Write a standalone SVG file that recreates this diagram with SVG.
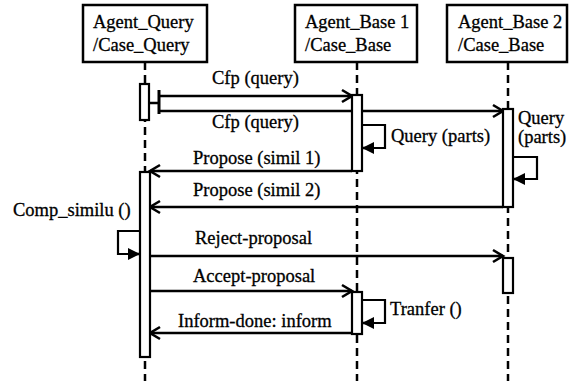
<svg xmlns="http://www.w3.org/2000/svg" width="571" height="381" viewBox="0 0 571 381">
<style>
text{font-family:'Liberation Serif','Times New Roman',serif;font-size:18.5px;fill:#000;stroke:#000;stroke-width:0.3}
.box{fill:#fff;stroke:#000;stroke-width:2.5}
.life{stroke:#000;stroke-width:2.5;stroke-dasharray:8 5;fill:none}
.act{fill:#fff;stroke:#000;stroke-width:2.2}
.msg{stroke:#000;stroke-width:2.5;fill:none}
.self{stroke:#000;stroke-width:2.2;fill:none}
</style>
<defs>
<marker id="open" markerUnits="userSpaceOnUse" markerWidth="16" markerHeight="16" refX="13" refY="8" orient="auto"><path d="M3,2 L13,8 L3,14" fill="none" stroke="#000" stroke-width="2.6"/></marker>
<marker id="solid" markerUnits="userSpaceOnUse" markerWidth="14" markerHeight="14" refX="12" refY="7" orient="auto"><path d="M0,1 L12,7 L0,13 Z" fill="#000"/></marker>
</defs>
<rect width="571" height="381" fill="#fff"/>
<g id="lifelines">
<line class="life" x1="145" y1="62" x2="145" y2="381"/>
<line class="life" x1="357" y1="62" x2="357" y2="381"/>
<line class="life" x1="508" y1="62" x2="508" y2="381"/>
</g>
<g id="node-agent-query">
<rect class="box" x="83" y="5" width="124" height="57"/>
<text x="93" y="28">Agent_Query</text>
<text x="93" y="51">/Case_Query</text>
</g>
<g id="node-agent-base1">
<rect class="box" x="295" y="5" width="122" height="57"/>
<text x="305" y="28">Agent_Base 1</text>
<text x="305" y="51">/Case_Base</text>
</g>
<g id="node-agent-base2">
<rect class="box" x="447" y="5" width="120" height="57"/>
<text x="458" y="28">Agent_Base 2</text>
<text x="458" y="51">/Case_Base</text>
</g>
<g id="connectors">
<line class="msg" x1="158" y1="96" x2="352" y2="96" marker-end="url(#open)"/>
<line class="msg" x1="158" y1="111" x2="503" y2="111" marker-end="url(#open)"/>
<line class="msg" x1="150" y1="103" x2="158" y2="103"/>
<line x1="159" y1="90" x2="159" y2="114" stroke="#000" stroke-width="3"/>
<polyline class="self" points="362,125 385,125 385,148 374,148"/>
<line class="msg" x1="374" y1="148" x2="362" y2="148" marker-end="url(#solid)"/>
<polyline class="self" points="513,157 537,157 537,179 525,179"/>
<line class="msg" x1="525" y1="179" x2="513" y2="179" marker-end="url(#solid)"/>
<line class="msg" x1="352" y1="171" x2="150" y2="171" marker-end="url(#open)"/>
<line class="msg" x1="503" y1="207" x2="150" y2="207" marker-end="url(#open)"/>
<polyline class="self" points="140,231 118,231 118,254 128,254"/>
<line class="msg" x1="128" y1="254" x2="140" y2="254" marker-end="url(#solid)"/>
<line class="msg" x1="150" y1="256" x2="503" y2="256" marker-end="url(#open)"/>
<line class="msg" x1="150" y1="291" x2="352" y2="291" marker-end="url(#open)"/>
<polyline class="self" points="362,300 385,300 385,323 374,323"/>
<line class="msg" x1="374" y1="323" x2="362" y2="323" marker-end="url(#solid)"/>
<line class="msg" x1="352" y1="333" x2="150" y2="333" marker-end="url(#open)"/>
</g>
<g id="activations">
<rect class="act" x="140" y="84" width="9" height="36"/>
<rect class="act" x="352" y="95" width="10" height="76"/>
<rect class="act" x="503" y="109" width="10" height="98"/>
<rect class="act" x="140" y="172" width="10" height="185"/>
<rect class="act" x="503" y="258" width="10" height="35"/>
<rect class="act" x="352" y="292" width="10" height="42"/>
</g>
<g id="labels">
<text x="212" y="84">Cfp (query)</text>
<text x="212" y="128">Cfp (query)</text>
<text x="391" y="142">Query (parts)</text>
<text x="518" y="124">Query</text>
<text x="518" y="143">(parts)</text>
<text x="193" y="164">Propose (simil 1)</text>
<text x="193" y="196">Propose (simil 2)</text>
<text x="13" y="216">Comp_similu ()</text>
<text x="195" y="244">Reject-proposal</text>
<text x="193" y="282">Accept-proposal</text>
<text x="390" y="315">Tranfer ()</text>
<text x="178" y="327">Inform-done: inform</text>
</g>
</svg>
